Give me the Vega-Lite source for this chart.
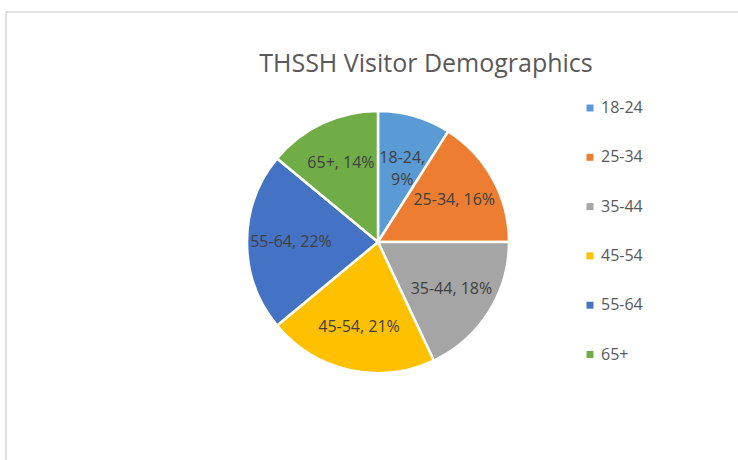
{
  "$schema": "https://vega.github.io/schema/vega-lite/v6.json",
  "width": 744,
  "height": 460,
  "autosize": {"type": "none"},
  "padding": {"left": 6, "top": 12, "right": 0, "bottom": 0},
  "background": "white",
  "view": {"stroke": "#d9d9d9", "strokeWidth": 1.5},
  "title": {
    "text": "THSSH Visitor Demographics",
    "font": "Open Sans",
    "fontSize": 25,
    "fontWeight": "normal",
    "color": "#595959",
    "anchor": "middle",
    "dx": 48,
    "offset": -85,
    "baseline": "alphabetic"
  },
  "data": {
    "values": [
      {"group": "18-24", "pct": 9, "label": "18-24,\n9%"},
      {"group": "25-34", "pct": 16, "label": "25-34, 16%"},
      {"group": "35-44", "pct": 18, "label": "35-44, 18%"},
      {"group": "45-54", "pct": 21, "label": "45-54, 21%"},
      {"group": "55-64", "pct": 22, "label": "55-64, 22%"},
      {"group": "65+", "pct": 14, "label": "65+, 14%"}
    ]
  },
  "encoding": {
    "theta": {"field": "pct", "type": "quantitative", "stack": true}
  },
  "layer": [
    {
      "mark": {"type": "arc", "radius": 131, "stroke": "white", "strokeWidth": 2.5},
      "encoding": {
        "color": {
          "field": "group",
          "type": "nominal",
          "scale": {
            "domain": ["18-24", "25-34", "35-44", "45-54", "55-64", "65+"],
            "range": ["#5B9BD5", "#ED7D31", "#A5A5A5", "#FFC000", "#4472C4", "#70AD47"]
          },
          "legend": {
            "orient": "none",
            "legendX": 576,
            "legendY": 88,
            "title": null,
            "padding": 0,
            "symbolType": "square",
            "symbolSize": 49,
            "symbolStrokeWidth": 0,
            "labelFont": "Open Sans",
            "labelFontSize": 16,
            "labelColor": "#595959",
            "labelOffset": 3,
            "rowPadding": 33.3
          }
        }
      }
    },
    {
      "mark": {
        "type": "text",
        "radius": 87,
        "font": "Open Sans",
        "fontSize": 16,
        "fill": "#404040",
        "lineBreak": "\n",
        "lineHeight": 22
      },
      "encoding": {
        "text": {"field": "label", "type": "nominal"}
      }
    }
  ]
}
